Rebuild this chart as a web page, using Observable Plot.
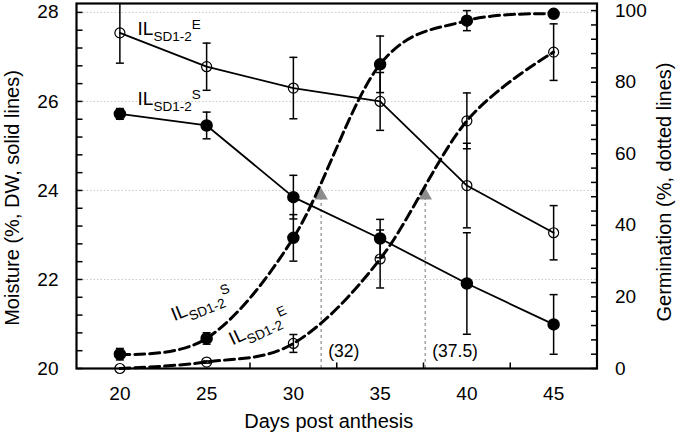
<!DOCTYPE html>
<html>
<head>
<meta charset="utf-8">
<script src="https://cdn.jsdelivr.net/npm/d3@7"></script>
<script src="https://cdn.jsdelivr.net/npm/@observablehq/plot@0.6"></script>
<style>
  html, body { margin: 0; padding: 0; background: white; }
  #chart { width: 677px; height: 436px; }
</style>
</head>
<body>
<div id="chart"></div>
<script>
// ---- data ----
const days = [20, 25, 30, 35, 40, 45];
const moistE = [27.54, 26.78, 26.30, 26.00, 24.11, 23.05];
const moistEErr = [0.68, 0.53, 0.69, 0.65, 0.95, 0.61];
const moistS = [25.72, 25.46, 23.85, 22.92, 21.91, 20.99];
const moistSErr = [0.12, 0.30, 0.49, 0.43, 1.14, 0.67];
const germS = [4.0, 8.4, 36.5, 85.0, 97.2, 99.1];
const germSErr = [1.6, 1.6, 6.5, 7.9, 2.8, 0];
const germE = [0, 1.8, 7.0, 30.6, 69.2, 88.4];
const germEErr = [0, 0.3, 2.5, 8.1, 7.8, 7.9];

const leftTickLabels = [20, 22, 24, 26, 28];
const rightTickLabels = [0, 20, 40, 60, 80, 100];
const xTickLabels = [20, 25, 30, 35, 40, 45];
const xMinorTicks = [27.5, 32.5, 37.5, 42.5];
const gridValues = [22, 24, 26, 28];

const arrowDays = [31.6, 37.6];
const arrowLabels = ["(32)", "(37.5)"];
const arrowTopGerm = 50;

const labelTexts = ["IL|SD1-2|E", "IL|SD1-2|S", "IL|SD1-2|S", "IL|SD1-2|E"];
const labelDays = [21.02, 21.02, 23.0, 26.35];
const labelMoist = [27.64, 26.06, 21.19, 20.64];
const labelAngles = [0, 0, -22, -25];

// germination (0-100) shares the moisture y scale: 100 % sits at 28.04
const GERM_K = 0.0804;
const g2m = g => 20 + g * GERM_K;

// ---- tables ----
const moistRows = [
  ...days.map((d, i) => ({series: "E", day: d, v: moistE[i], e: moistEErr[i]})),
  ...days.map((d, i) => ({series: "S", day: d, v: moistS[i], e: moistSErr[i]}))
].map(r => ({...r, lo: r.v - r.e, hi: r.v + r.e}));
const germRows = [
  ...days.map((d, i) => ({series: "E", day: d, g: germE[i], e: germEErr[i]})),
  ...days.map((d, i) => ({series: "S", day: d, g: germS[i], e: germSErr[i]}))
].map(r => ({...r, v: g2m(r.g), lo: g2m(r.g - r.e), hi: g2m(r.g + r.e)}));
const allRows = [...moistRows, ...germRows];
const barRows = allRows.filter(r => r.e > 0);

const labelRows = labelTexts.map((t, i) => ({t, x: labelDays[i], y: labelMoist[i], a: labelAngles[i]}));

// custom symbols
const cap = {draw(ctx, size) { const r = Math.sqrt(size / Math.PI); ctx.moveTo(-r, 0); ctx.lineTo(r, 0); }};
const tickRight = {draw(ctx, size) { const r = Math.sqrt(size / Math.PI); ctx.moveTo(0, 0); ctx.lineTo(r, 0); }};
const tickLeft = {draw(ctx, size) { const r = Math.sqrt(size / Math.PI); ctx.moveTo(0, 0); ctx.lineTo(-r, 0); }};
const tickUp = {draw(ctx, size) { const r = Math.sqrt(size / Math.PI); ctx.moveTo(0, 0); ctx.lineTo(0, -r); }};

const leftMinor = d3.range(0, 21).map(i => 20 + i * 0.4);
const rightMinor = d3.range(0, 26).map(i => g2m(i * 4));

const chart = Plot.plot({
  width: 677,
  height: 436,
  marginLeft: 76,
  marginRight: 80.5,
  marginTop: 3,
  marginBottom: 68,
  x: {domain: [17.5, 47.5]},
  y: {domain: [20, 28.2]},
  style: {fontFamily: "'Liberation Sans', Arial, sans-serif", fontSize: "19px", color: "black", background: "white"},
  marks: [
    Plot.ruleY(gridValues, {stroke: "#c8c8c8", strokeDasharray: "1.5,2", strokeWidth: 1}),
    // dotted arrows
    Plot.ruleX(arrowDays, {x: d => d, y1: 20, y2: g2m(arrowTopGerm), stroke: "#8c8c8c", strokeDasharray: "3,3", strokeWidth: 1.2}),
    Plot.dot(arrowDays, {x: d => d, y: g2m(arrowTopGerm), symbol: "triangle", r: 5, fill: "#8c8c8c", stroke: "none", dy: 6}),
    Plot.text(arrowDays, {x: d => d, text: (d, i) => arrowLabels[i], frameAnchor: "bottom", dy: -17, dx: 7, textAnchor: "start", lineAnchor: "middle", fontSize: 17.5}),
    // error bars
    Plot.ruleX(barRows, {x: "day", y1: "lo", y2: "hi", stroke: "black", strokeWidth: 1.5, clip: "frame"}),
    Plot.dot(barRows.filter(r => r.hi <= 28.2), {x: "day", y: "hi", symbol: cap, r: 4, stroke: "black", fill: "none", strokeWidth: 1.5}),
    Plot.dot(barRows, {x: "day", y: "lo", symbol: cap, r: 4, stroke: "black", fill: "none", strokeWidth: 1.5}),
    // lines
    Plot.line(moistRows, {x: "day", y: "v", z: "series", stroke: "black", strokeWidth: 1.8}),
    Plot.line(germRows, {x: "day", y: "v", z: "series", stroke: "black", strokeWidth: 3, strokeDasharray: "10,5", curve: "cardinal", tension: 0}),
    // markers
    Plot.dot(allRows.filter(r => r.series === "S"), {x: "day", y: "v", r: 5.5, fill: "black", stroke: "black"}),
    Plot.dot(allRows.filter(r => r.series === "E"), {x: "day", y: "v", r: 5, fill: "none", stroke: "black", strokeWidth: 1.2}),
    // frame
    Plot.frame({stroke: "black", strokeWidth: 2.2}),
    // inward ticks
    Plot.dot(leftMinor, {y: d => d, frameAnchor: "left", symbol: tickRight, r: 6, stroke: "black", strokeWidth: 1.5}),
    Plot.dot(rightMinor, {y: d => d, frameAnchor: "right", symbol: tickLeft, r: 6, stroke: "black", strokeWidth: 1.5}),
    Plot.dot(xMinorTicks, {x: d => d, frameAnchor: "bottom", symbol: tickUp, r: 6, stroke: "black", strokeWidth: 1.5}),
    // axes
    Plot.axisY({anchor: "left", ticks: leftTickLabels, tickSize: 0, tickPadding: 18, label: null, fontSize: 19}),
    Plot.axisY({anchor: "right", ticks: rightTickLabels.map(g2m), tickFormat: d => String(Math.round((d - 20) / GERM_K)), tickSize: 0, tickPadding: 18, label: null, fontSize: 19}),
    Plot.axisX({ticks: xTickLabels, tickSize: 0, tickPadding: 18, label: null, fontSize: 19}),
    // axis titles
    Plot.text(["Moisture (%, DW, solid lines)"], {text: d => d, frameAnchor: "left", rotate: -90, dx: -64, dy: 12, fontSize: 20, textAnchor: "middle", lineAnchor: "middle"}),
    Plot.text(["Germination (%, dotted lines)"], {text: d => d, frameAnchor: "right", rotate: -90, dx: 67.5, dy: 6, fontSize: 20, textAnchor: "middle", lineAnchor: "middle"}),
    Plot.text(["Days post anthesis"], {text: d => d, frameAnchor: "bottom", dy: 53.5, dx: -8, fontSize: 20, textAnchor: "middle", lineAnchor: "middle"}),
    // series labels
    Plot.text(labelRows, {x: "x", y: "y", text: "t", rotate: "a", textAnchor: "start", lineAnchor: "middle", fontSize: 19})
  ]
});

// render sub/superscripts for the series labels
chart.querySelectorAll("text").forEach(t => {
  const s = t.textContent;
  if (s.includes("|")) {
    const [a, b, c] = s.split("|");
    t.textContent = "";
    const ns = "http://www.w3.org/2000/svg";
    const t1 = document.createElementNS(ns, "tspan"); t1.textContent = a;
    const t2 = document.createElementNS(ns, "tspan"); t2.textContent = b; t2.setAttribute("font-size", "13.5"); t2.setAttribute("dy", "6");
    const t3 = document.createElementNS(ns, "tspan"); t3.textContent = c; t3.setAttribute("font-size", "13.5"); t3.setAttribute("dy", "-12");
    t.append(t1, t2, t3);
  }
});

document.getElementById("chart").append(chart);
</script>
</body>
</html>
